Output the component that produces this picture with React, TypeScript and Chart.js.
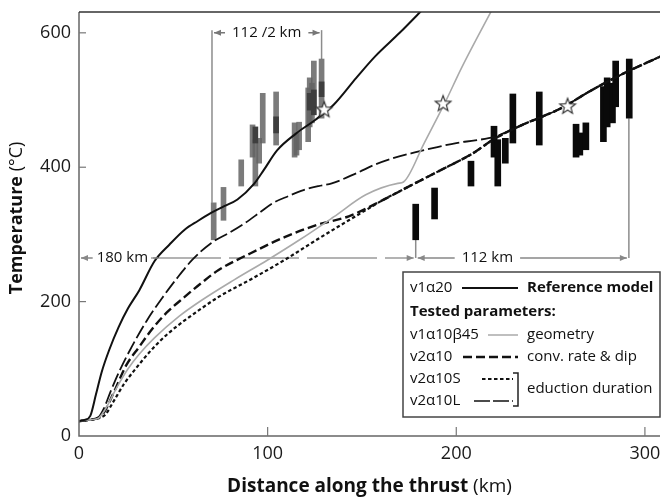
import React, { useEffect, useRef } from 'react';
import { Chart, registerables } from 'chart.js';

Chart.register(...registerables);

const FONT = '"Open Sans", "Noto Sans", "DejaVu Sans", sans-serif';

// ---- axes ----
const X_MAX = 308;
const Y_MAX = 631;
const xTicks = [0, 100, 200, 300];
const yTicks = [0, 200, 400, 600];
const xTitleBold = 'Distance along the thrust';
const xTitleUnit = ' (km)';
const yTitleBold = 'Temperature';
const yTitleUnit = ' (°C)';

// ---- model curves (distance km, temperature °C) ----
const refX = [0, 3, 6, 9, 12, 16, 21, 26, 32, 40, 48, 56, 63, 70, 77, 84, 93, 98, 105, 115, 125, 135, 147, 157, 170, 184];
const refY = [22, 24, 30, 62, 95, 128, 162, 190, 217, 260, 285, 307, 320, 332, 342, 352, 376, 396, 425, 450, 470, 493, 533, 565, 600, 640];

const geoX = [0, 5, 10, 14, 20, 26, 32, 40, 53, 65, 82, 100, 117, 135, 152, 169, 172, 183, 194, 203, 220];
const geoY = [22, 24, 26, 40, 72, 100, 122, 146, 178, 202, 232, 262, 292, 326, 359, 376, 378, 436, 496, 549, 640];

const convX = [0, 5, 10, 13, 18, 25, 32, 39, 47, 56, 65, 74, 91, 109, 126, 143, 161, 176, 192, 209, 220, 235, 255, 272, 289, 310];
const convY = [22, 24, 27, 34, 62, 105, 133, 160, 185, 207, 228, 247, 272, 296, 314, 327, 351, 373, 396, 421, 442, 463, 487, 515, 540, 567];

const shortX = [0, 5, 10, 14, 18, 24, 30, 39, 47, 56, 65, 74, 91, 109, 126, 143, 152, 161, 176, 192, 209, 220, 235, 255, 272, 289, 310];
const shortY = [22, 24, 26, 32, 50, 78, 100, 130, 152, 172, 190, 207, 233, 262, 292, 321, 336, 351, 373, 396, 421, 442, 463, 487, 515, 540, 567];

const longX = [0, 5, 10, 13, 17, 22, 28, 36, 44, 52, 60, 70, 80, 88, 96, 103, 111, 119, 127, 134, 147, 157, 166, 178, 190, 200, 210, 220, 235, 255, 272, 289, 310];
const longY = [22, 24, 27, 40, 68, 100, 133, 172, 205, 235, 262, 287, 303, 317, 333, 347, 357, 366, 372, 376, 391, 404, 413, 422, 430, 436, 440, 445, 463, 487, 515, 540, 567];

// ---- samples (black: true positions, grey: positions /2) ----
const blackX = [178.5, 188.5, 207.8, 220, 222, 226, 230, 244, 263.5, 265.5, 268.7, 278, 280, 282.8, 284.5, 291.7];
const blackLo = [292, 323, 372, 415, 372, 406, 436, 433, 415, 418, 426, 438, 460, 466, 490, 473];
const blackHi = [345, 369, 409, 461, 441, 443, 509, 512, 464, 451, 466, 520, 533, 525, 558, 561];

const greyX = [71.4, 76.6, 86, 92, 93.5, 95.5, 97.4, 104.5, 114.3, 115.3, 116.7, 121.5, 122.3, 123.5, 124.5, 128.6];
const greyLo = [292, 321, 372, 415, 372, 406, 436, 433, 415, 418, 426, 438, 460, 466, 490, 473];
const greyHi = [347, 370, 411, 463, 441, 443, 510, 512, 466, 451, 467, 518, 533, 525, 558, 561];

const greyDarkX = [93.5, 104.5, 122.3, 124.5, 128.6];
const greyDarkLo = [436, 451, 485, 478, 505];
const greyDarkHi = [460, 475, 510, 515, 527];

// ---- stars (peak T from models) ----
const starX = [130, 193, 259];
const starY = [486, 495, 491];

// ---- annotations ----
const spanHalf = { x1: 70.5, x2: 128.6, y: 600, textX: 99.5, label: '112 /2 km' };
const span180 = { x1: 0, x2: 178.5, y: 265, textX: 23, label: '180 km' };
const span112 = { x1: 178.5, x2: 291.5, y: 265, textX: 216.5, label: '112 km' };
const vLines = [
  { x: 70.5, y1: 604, y2: 347 },
  { x: 128.6, y1: 604, y2: 561 },
  { x: 178.5, y1: 265, y2: 292 },
  { x: 291.5, y1: 265, y2: 473 },
];

const pts = (xs: number[], ys: number[]) => xs.map((x, i) => ({ x, y: ys[i] }));

function makeStar(): HTMLCanvasElement {
  const c = document.createElement('canvas');
  c.width = 20; c.height = 20;
  const g = c.getContext('2d')!;
  g.beginPath();
  for (let i = 0; i < 10; i++) {
    const r = i % 2 === 0 ? 8.2 : 3.5;
    const a = -Math.PI / 2 + (i * Math.PI) / 5;
    const px = 10 + r * Math.cos(a);
    const py = 10.5 + r * Math.sin(a);
    if (i === 0) g.moveTo(px, py); else g.lineTo(px, py);
  }
  g.closePath();
  g.fillStyle = '#fff';
  g.fill();
  g.lineWidth = 1.2;
  g.strokeStyle = '#333';
  g.stroke();
  return c;
}

function arrowHead(ctx: CanvasRenderingContext2D, x: number, y: number, dir: number) {
  ctx.beginPath();
  ctx.moveTo(x, y);
  ctx.lineTo(x - dir * 7, y - 3);
  ctx.lineTo(x - dir * 7, y + 3);
  ctx.closePath();
  ctx.fill();
}

function drawSpan(ctx: CanvasRenderingContext2D, xs: any, ys: any, s: any, color: string) {
  const a = xs.getPixelForValue(s.x1) + 2;
  const b = xs.getPixelForValue(s.x2) - 2;
  const yy = ys.getPixelForValue(s.y);
  const tc = xs.getPixelForValue(s.textX);
  ctx.font = `15px ${FONT}`;
  const w = ctx.measureText(s.label).width;
  const t1 = tc - w / 2 - 7;
  const t2 = tc + w / 2 + 7;
  ctx.strokeStyle = color;
  ctx.fillStyle = color;
  ctx.lineWidth = 1.5;
  ctx.beginPath();
  if (t1 > a + 4) { ctx.moveTo(a, yy); ctx.lineTo(t1, yy); }
  ctx.moveTo(t2, yy); ctx.lineTo(b, yy);
  ctx.stroke();
  arrowHead(ctx, a, yy, -1);
  arrowHead(ctx, b, yy, 1);
  ctx.fillStyle = '#111';
  ctx.textAlign = 'center';
  ctx.textBaseline = 'middle';
  ctx.fillText(s.label, tc, yy);
}

const decorPlugin = {
  id: 'decor',
  beforeDatasetsDraw(chart: any) {
    const { ctx, scales } = chart;
    const xs = scales.x, ys = scales.y;
    ctx.save();
    ctx.strokeStyle = '#8c8c8c';
    ctx.lineWidth = 1.5;
    vLines.forEach((v) => {
      const px = xs.getPixelForValue(v.x);
      ctx.beginPath();
      ctx.moveTo(px, ys.getPixelForValue(v.y1));
      ctx.lineTo(px, ys.getPixelForValue(v.y2));
      ctx.stroke();
    });
    // 180 km line (behind curves)
    const a = xs.getPixelForValue(span180.x1) + 2;
    const b = xs.getPixelForValue(span180.x2) - 2;
    const yy = ys.getPixelForValue(span180.y);
    ctx.strokeStyle = '#9a9a9a';
    ctx.setLineDash([70, 8]);
    ctx.beginPath();
    ctx.moveTo(a + 70, yy);
    ctx.lineTo(b, yy);
    ctx.stroke();
    ctx.setLineDash([]);
    ctx.restore();
  },
  afterDatasetsDraw(chart: any) {
    const { ctx, chartArea, scales } = chart;
    const xs = scales.x, ys = scales.y;
    ctx.save();

    // spans / labels
    drawSpan(ctx, xs, ys, spanHalf, '#777');
    drawSpan(ctx, xs, ys, span112, '#888');
    // 180 km: arrow + label only (line drawn beneath)
    {
      const a = xs.getPixelForValue(span180.x1) + 2;
      const b = xs.getPixelForValue(span180.x2) - 2;
      const yy = ys.getPixelForValue(span180.y);
      const tc = xs.getPixelForValue(span180.textX);
      ctx.font = `15px ${FONT}`;
      const w = ctx.measureText(span180.label).width;
      ctx.strokeStyle = '#888';
      ctx.fillStyle = '#888';
      ctx.lineWidth = 1.5;
      ctx.beginPath();
      ctx.moveTo(a, yy); ctx.lineTo(tc - w / 2 - 4, yy);
      ctx.moveTo(tc + w / 2 + 5, yy); ctx.lineTo(tc + w / 2 + 10, yy);
      ctx.stroke();
      arrowHead(ctx, a, yy, -1);
      arrowHead(ctx, b, yy, 1);
      ctx.fillStyle = '#111';
      ctx.textAlign = 'center';
      ctx.textBaseline = 'middle';
      ctx.fillText(span180.label, tc, yy);
    }

    // axes
    const L = chartArea.left, R = chartArea.right, T = chartArea.top, B = chartArea.bottom;
    ctx.strokeStyle = '#666';
    ctx.lineWidth = 1.5;
    ctx.beginPath();
    ctx.moveTo(L, T); ctx.lineTo(L, B); ctx.lineTo(R, B);
    ctx.stroke();
    ctx.strokeStyle = '#333';
    ctx.beginPath();
    ctx.moveTo(L, T); ctx.lineTo(R, T);
    ctx.stroke();

    // ticks
    ctx.strokeStyle = '#777';
    ctx.lineWidth = 1.2;
    ctx.fillStyle = '#1a1a1a';
    ctx.font = `18px ${FONT}`;
    ctx.textAlign = 'right';
    ctx.textBaseline = 'middle';
    yTicks.forEach((v) => {
      const py = ys.getPixelForValue(v);
      if (v > 0) {
        ctx.beginPath(); ctx.moveTo(L, py); ctx.lineTo(L + 7, py); ctx.stroke();
      }
      ctx.fillText(String(v), L - 8, py);
    });
    ctx.textAlign = 'center';
    ctx.textBaseline = 'top';
    xTicks.forEach((v) => {
      const px = xs.getPixelForValue(v);
      if (v > 0) {
        ctx.beginPath(); ctx.moveTo(px, B); ctx.lineTo(px, B - 9); ctx.stroke();
      }
      ctx.fillText(String(v), px, B + 9);
    });

    // axis titles
    ctx.fillStyle = '#111';
    ctx.textBaseline = 'middle';
    ctx.textAlign = 'left';
    {
      ctx.font = `bold 19px ${FONT}`;
      const w1 = ctx.measureText(xTitleBold).width;
      ctx.font = `19px ${FONT}`;
      const w2 = ctx.measureText(xTitleUnit).width;
      const cx = (L + R) / 2;
      const x0 = cx - (w1 + w2) / 2;
      ctx.font = `bold 19px ${FONT}`;
      ctx.fillText(xTitleBold, x0, 487);
      ctx.font = `19px ${FONT}`;
      ctx.fillText(xTitleUnit, x0 + w1, 487);
    }
    {
      ctx.save();
      ctx.translate(17, (T + B) / 2 - 6);
      ctx.rotate(-Math.PI / 2);
      ctx.font = `bold 18px ${FONT}`;
      const w1 = ctx.measureText(yTitleBold).width;
      ctx.font = `18px ${FONT}`;
      const w2 = ctx.measureText(yTitleUnit).width;
      const x0 = -(w1 + w2) / 2;
      ctx.font = `bold 18px ${FONT}`;
      ctx.fillText(yTitleBold, x0, 0);
      ctx.font = `18px ${FONT}`;
      ctx.fillText(yTitleUnit, x0 + w1, 0);
      ctx.restore();
    }

    // legend box
    ctx.fillStyle = '#fff';
    ctx.fillRect(403, 272, 257, 145);
    ctx.strokeStyle = '#444';
    ctx.lineWidth = 1.5;
    ctx.strokeRect(403, 272, 257, 145);
    ctx.fillStyle = '#111';
    ctx.textAlign = 'left';
    ctx.textBaseline = 'middle';
    const reg = `15px ${FONT}`;
    const bold = `bold 15px ${FONT}`;
    const sample = (x1: number, x2: number, y: number, color: string, width: number, dash: number[]) => {
      ctx.save();
      ctx.strokeStyle = color; ctx.lineWidth = width; ctx.setLineDash(dash);
      ctx.beginPath(); ctx.moveTo(x1, y); ctx.lineTo(x2, y); ctx.stroke();
      ctx.restore();
    };
    ctx.font = reg; ctx.fillText('v1α20', 410, 288);
    sample(462, 518, 288, '#111', 2, []);
    ctx.font = bold; ctx.fillText('Reference model', 527, 288);
    ctx.font = bold; ctx.fillText('Tested parameters:', 410, 312);
    ctx.font = reg; ctx.fillText('v1α10β45', 410, 335);
    sample(488, 518, 335, '#aaa', 1.5, []);
    ctx.fillText('geometry', 527, 335);
    ctx.fillText('v2α10', 410, 357);
    sample(463, 518, 357, '#111', 2.4, [9, 4]);
    ctx.fillText('conv. rate & dip', 527, 357);
    ctx.fillText('v2α10S', 410, 379);
    sample(482, 513, 379, '#111', 2, [3.5, 2.5]);
    ctx.fillText('v2α10L', 410, 401);
    sample(474, 513, 401, '#111', 1.6, [16, 3]);
    ctx.strokeStyle = '#222'; ctx.lineWidth = 1.5;
    ctx.beginPath();
    ctx.moveTo(513, 373); ctx.lineTo(518, 373); ctx.lineTo(518, 406); ctx.lineTo(513, 406);
    ctx.stroke();
    ctx.fillText('eduction duration', 527, 389);

    ctx.restore();
  },
};

export default function App() {
  const ref = useRef<HTMLCanvasElement | null>(null);
  useEffect(() => {
    if (!ref.current) return;
    const star = makeStar();
    const lineDs = (label: string, xs: number[], ys: number[], color: string, width: number, dash: number[]) => ({
      type: 'line' as const,
      label,
      data: pts(xs, ys),
      borderColor: color,
      borderWidth: width,
      borderDash: dash,
      pointRadius: 0,
      fill: false,
      cubicInterpolationMode: 'monotone' as const,
      order: 2,
    });
    const barDs = (label: string, xs: number[], lo: number[], hi: number[], color: string, thick: number, order: number) => ({
      type: 'bar' as const,
      label,
      data: xs.map((x, i) => ({ x, y: [lo[i], hi[i]] })),
      backgroundColor: color,
      borderWidth: 0,
      barThickness: thick,
      grouped: false,
      order,
    });
    const chart = new Chart(ref.current, {
      type: 'line',
      data: {
        datasets: [
          {
            type: 'line' as const,
            label: 'stars',
            data: pts(starX, starY),
            showLine: false,
            pointStyle: star as any,
            pointRadius: 8,
            order: 0,
          } as any,
          lineDs('v1α20', refX, refY, '#111', 2, []),
          lineDs('v1α10β45', geoX, geoY, '#aaa', 1.6, []),
          lineDs('v2α10', convX, convY, '#111', 2.4, [9, 4]),
          lineDs('v2α10S', shortX, shortY, '#111', 2.2, [3.5, 2.5]),
          lineDs('v2α10L', longX, longY, '#111', 1.8, [14, 4]),
          barDs('grey dark', greyDarkX, greyDarkLo, greyDarkHi, '#3e3e3e', 5, 4),
          barDs('grey', greyX, greyLo, greyHi, 'rgba(100,100,100,0.85)', 5, 5),
          barDs('black', blackX, blackLo, blackHi, '#0a0a0a', 6, 5),
        ] as any,
      },
      options: {
        responsive: false,
        animation: false,
        maintainAspectRatio: false,
        layout: { padding: { left: 0, right: 0, top: 12, bottom: 0 } },
        plugins: { legend: { display: false }, tooltip: { enabled: false }, title: { display: false } },
        scales: {
          x: {
            type: 'linear', min: 0, max: X_MAX, offset: false,
            grid: { display: false }, ticks: { display: false }, border: { display: false },
            afterFit: (s: any) => { s.height = 62; },
          },
          y: {
            type: 'linear', min: 0, max: Y_MAX,
            grid: { display: false }, ticks: { display: false }, border: { display: false },
            afterFit: (s: any) => { s.width = 79; },
          },
        },
      } as any,
      plugins: [decorPlugin],
    });
    return () => chart.destroy();
  }, []);
  return (
    <div style={{ position: 'absolute', left: 0, top: 0, width: 669, height: 498, overflow: 'hidden', background: '#fff' }}>
      <canvas ref={ref} width={669} height={498} style={{ display: 'block' }} />
    </div>
  );
}
